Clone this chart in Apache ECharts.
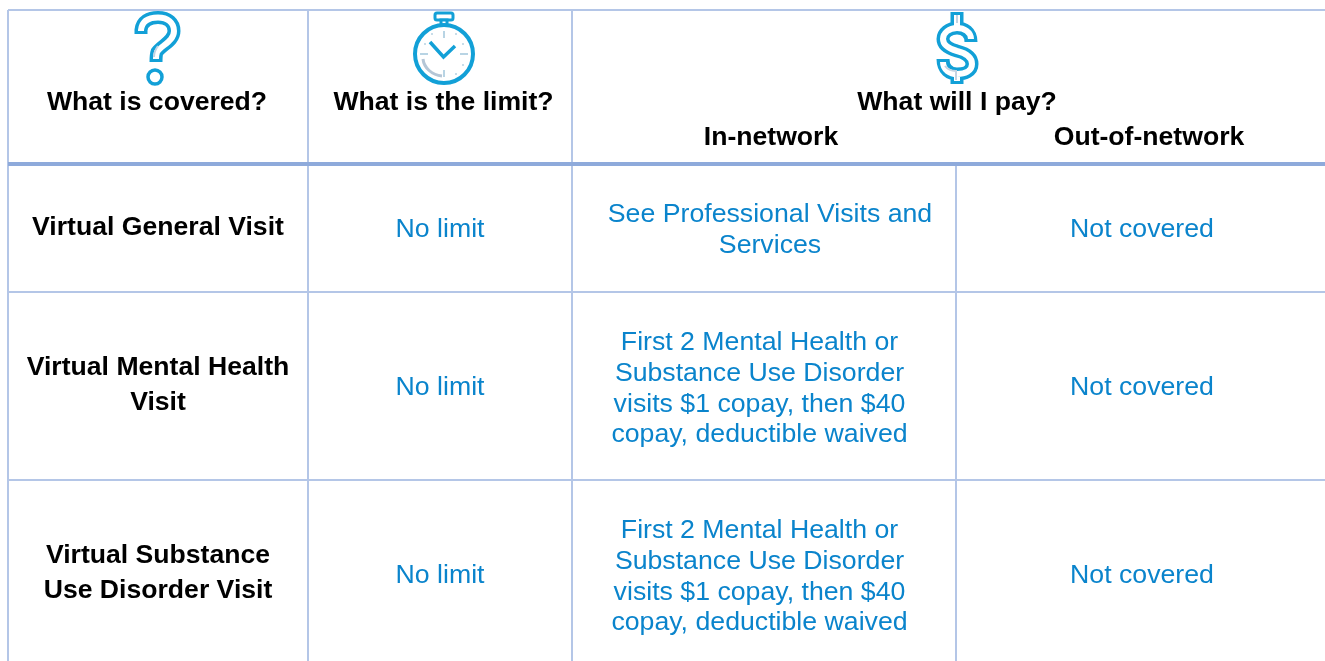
<!DOCTYPE html>
<html>
<head>
<meta charset="utf-8">
<title>Virtual visits coverage</title>
<style>
html,body{margin:0;padding:0;background:#fff;overflow:hidden}
#main{width:1325px;height:661px}
</style>
<script src="https://cdn.jsdelivr.net/npm/echarts@6/dist/echarts.min.js"></script>
</head>
<body>
<div id="main"></div>
<script>
// table content
var headers = ['What is covered?', 'What is the limit?', 'What will I pay?'];
var subHeaders = ['In-network', 'Out-of-network'];
var covered = [['Virtual General Visit'], ['Virtual Mental Health', 'Visit'], ['Virtual Substance', 'Use Disorder Visit']];
var limits = ['No limit', 'No limit', 'No limit'];
var inNetwork = [
    ['See Professional Visits and', 'Services'],
    ['First 2 Mental Health or', 'Substance Use Disorder', 'visits $1 copay, then $40', 'copay, deductible waived'],
    ['First 2 Mental Health or', 'Substance Use Disorder', 'visits $1 copay, then $40', 'copay, deductible waived']
];
var outNetwork = ['Not covered', 'Not covered', 'Not covered'];

// layout, in page pixels
var W = 1325, H = 661;
var colX = [8, 308, 572, 956];
var rowY = [164, 292, 480];
var rowMid = [228, 386, 574];
var FONT = 'Liberation Sans';
var BLUE = '#0a84cc';
var ICON = '#12a0d7';
var GRID = '#b4c6e7';
var GRID2 = '#8eaadb';

// lines: x1,y1,x2,y2,width,color
var lines = [
    [colX[0], 10, W, 10, 2, GRID],
    [colX[0], 10, colX[0], H, 2, GRID],
    [colX[1], 10, colX[1], H, 2, GRID],
    [colX[2], 10, colX[2], H, 2, GRID],
    [colX[3], 164, colX[3], H, 2, GRID],
    [colX[0], rowY[1], W, rowY[1], 2, GRID],
    [colX[0], rowY[2], W, rowY[2], 2, GRID],
    [colX[0], rowY[0], W, rowY[0], 4, GRID2]
];

// texts: x,y,string,bold
var texts = [];
function addBlock(x, mid, arr, lh, bold) {
    arr.forEach(function (s, i) {
        texts.push([x, mid + (i - (arr.length - 1) / 2) * lh, s, bold]);
    });
}
texts.push([157, 103, headers[0], 1]);
texts.push([443.5, 103, headers[1], 1]);
texts.push([957, 103, headers[2], 1]);
texts.push([771, 138, subHeaders[0], 1]);
texts.push([1149, 138, subHeaders[1], 1]);
for (var r = 0; r < 3; r++) {
    addBlock(158, rowMid[r] + (r === 0 ? 0 : -1), covered[r], 35, 1);
    addBlock(440, rowMid[r] + 2, [limits[r]], 31, 0);
    addBlock(r === 0 ? 770 : 759.5, rowMid[r] + 2 + (r === 0 ? 0 : 1), inNetwork[r], 30.7, 0);
    addBlock(1142, rowMid[r] + 2, [outNetwork[r]], 31, 0);
}

var chart = echarts.init(document.getElementById('main'), null, {renderer: 'canvas'});

function icon(path, width, color) {
    return {type: 'path', shape: {pathData: path},
        style: {fill: 'none', stroke: color, lineWidth: width, lineJoin: 'miter', lineCap: 'butt'}};
}
// the icons are outlines: a wide blue stroke with a narrower white one over it,
// the white one stops short so the ends stay closed
var questionOuter = 'M141 34 L141 30 C142 21 149 17.5 158 17.5 C168 17.5 174 23 174 31 C174 41 162 45 157 52 C156 55 156 58 156 62';
var questionInner = 'M141 31 L141 30 C142 21 149 17.5 158 17.5 C168 17.5 174 23 174 31 C174 41 162 45 157 52 C156 55 156 57 156 59';
var dollarCurve = 'C971 32 964 28 957 28 C949 28 943 33 943 39 C943 46 950 49 957 51 C965 53 972 57 972 64 C972 71 965 74 957 74 C950 74 943 70 943 59';
var dollarOuter = 'M971 42 ' + dollarCurve + ' M957 12 L957 28 M957 74 L957 84';
var dollarInner = 'M971 39 ' + dollarCurve.replace('943 59', '943 62') + ' M957 15 L957 28 M957 74 L957 81';

var iconParts = [
    // question mark
    icon(questionOuter, 13, ICON), icon(questionInner, 6, '#fff'),
    icon('M158 46 C155 50 154 53 154 57', 2, '#c3d3e2'),
    {type: 'circle', shape: {cx: 155, cy: 77, r: 7}, style: {fill: '#fff', stroke: ICON, lineWidth: 3.5}},
    // stopwatch
    {type: 'rect', shape: {x: 435, y: 13, width: 18, height: 7, r: 2}, style: {fill: '#fff', stroke: ICON, lineWidth: 3}},
    {type: 'rect', shape: {x: 441, y: 20, width: 6, height: 5}, style: {fill: '#fff', stroke: ICON, lineWidth: 3}},
    {type: 'circle', shape: {cx: 444, cy: 54, r: 29}, style: {fill: '#fff', stroke: ICON, lineWidth: 4}},
    icon('M444 31 L444 38 M444 70 L444 77 M420 54 L428 54 M460 54 L468 54', 2, '#b8d4e4'),
    icon('M432 33 L432 35 M456 33 L456 35 M425 43 L425 45 M463 43 L463 45 M456 73 L456 75 M463 64 L463 66', 2, '#c8dde9'),
    icon('M423 59 C424 68 432 75 442 76', 3, '#b5c6d6'),
    icon('M430 42 L443.5 57 L455 46', 3.5, ICON),
    // dollar sign
    icon(dollarOuter, 13, ICON), icon(dollarInner, 6, '#fff'),
    icon('M957 15 L957 23 M945 66 C948 70 952 71 956 71 L956 80', 2, '#c3d3e2')
];

chart.setOption({
    animation: false,
    grid: {left: 0, right: 0, top: 0, bottom: 0},
    xAxis: {type: 'value', min: 0, max: W, show: false},
    yAxis: {type: 'value', min: 0, max: H, inverse: true, show: false},
    series: [
        {
            type: 'custom', silent: true, clip: false, z: 1,
            data: lines.map(function (l) { return [l[0], l[1], l[2], l[3]]; }),
            renderItem: function (params, api) {
                var a = api.coord([api.value(0), api.value(1)]);
                var b = api.coord([api.value(2), api.value(3)]);
                var l = lines[params.dataIndex];
                return {type: 'line', shape: {x1: a[0], y1: a[1], x2: b[0], y2: b[1]}, style: {stroke: l[5], lineWidth: l[4]}};
            }
        },
        {
            type: 'custom', silent: true, clip: false, z: 2,
            data: [[0, 0]],
            renderItem: function () {
                return {type: 'group', children: iconParts};
            }
        },
        {
            type: 'custom', silent: true, clip: false, z: 3,
            data: texts.map(function (t) { return [t[0], t[1]]; }),
            renderItem: function (params, api) {
                var t = texts[params.dataIndex];
                var p = api.coord([api.value(0), api.value(1)]);
                return {type: 'text', style: {
                    x: p[0], y: p[1], text: t[2], align: 'center', verticalAlign: 'middle',
                    fontFamily: FONT, fontSize: t[3] ? 26.6 : 26.7, fontWeight: t[3] ? 'bold' : 'normal',
                    fill: t[3] ? '#000' : BLUE
                }};
            }
        }
    ]
});
</script>
</body>
</html>
